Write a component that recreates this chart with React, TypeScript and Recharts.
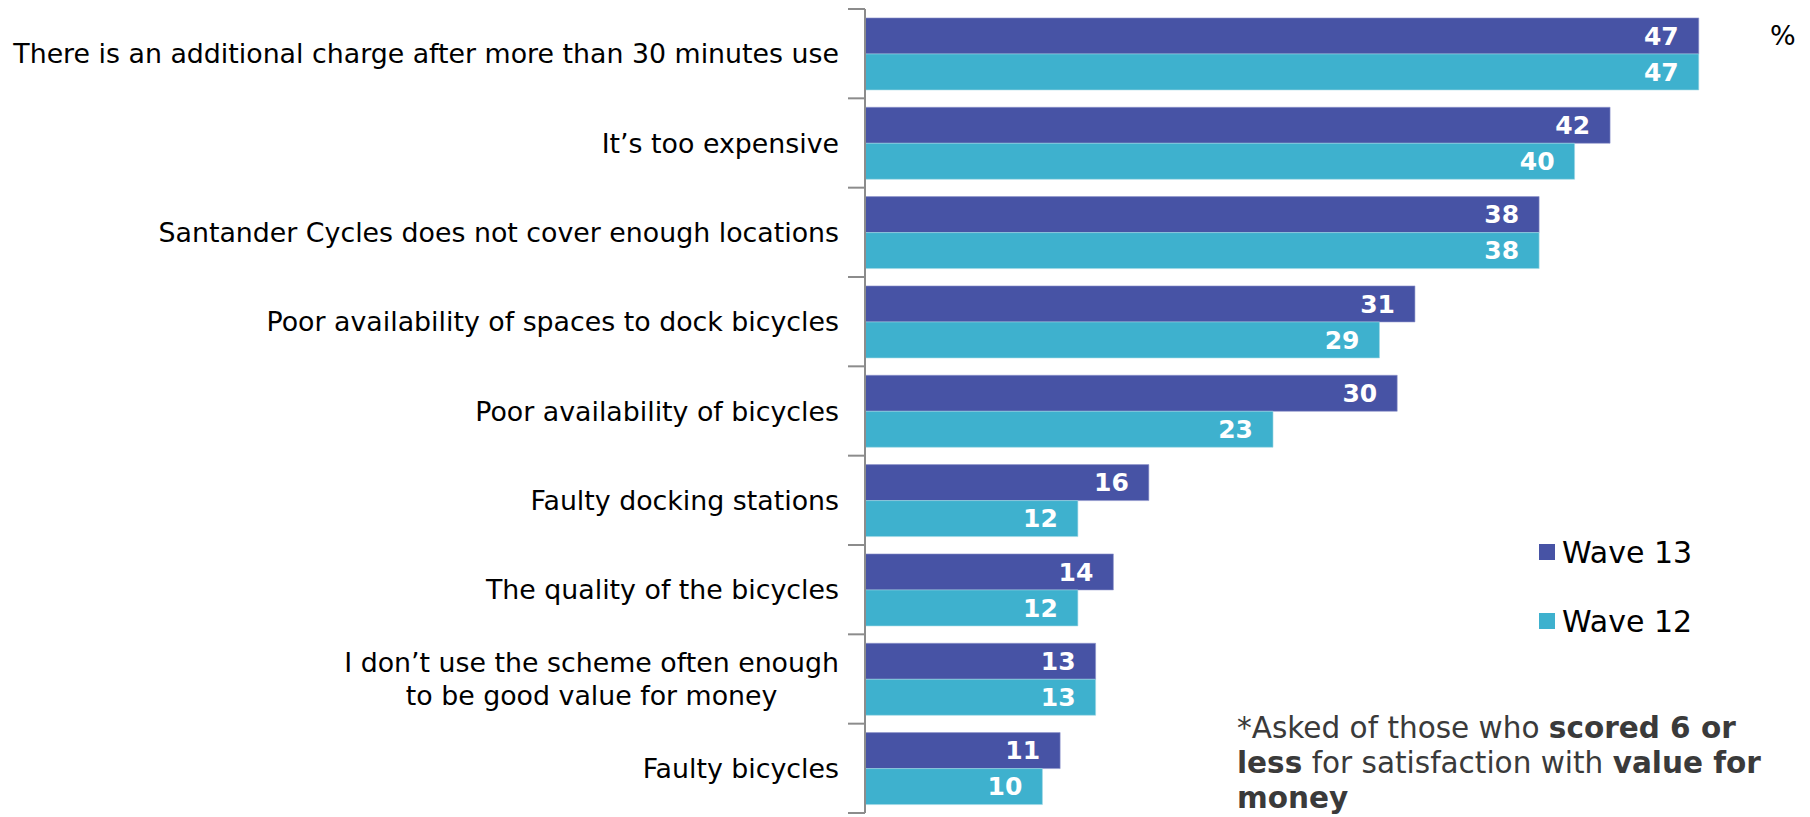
import React from 'react';
import { BarChart, Bar, XAxis, YAxis, LabelList } from 'recharts';

const categories = [
  'There is an additional charge after more than 30 minutes use',
  'It\u2019s too expensive',
  'Santander Cycles does not cover enough locations',
  'Poor availability of spaces to dock bicycles',
  'Poor availability of bicycles',
  'Faulty docking stations',
  'The quality of the bicycles',
  'I don\u2019t use the scheme often enough\nto be good value for money',
  'Faulty bicycles',
];
const wave13 = [47, 42, 38, 31, 30, 16, 14, 13, 11];
const wave12 = [47, 40, 38, 29, 23, 12, 12, 13, 10];
const seriesNames = ['Wave 13', 'Wave 12'];

const data = categories.map((name, i) => ({ name, w13: wave13[i], w12: wave12[i] }));

const DARK = '#4753A5';
const CYAN = '#3EB1CE';
const FONT = "'DejaVu Sans', Verdana, sans-serif";
const LABEL_SIZE = 26.8;

let ctx: CanvasRenderingContext2D | null = null;
function textWidth(t: string) {
  if (!ctx) ctx = document.createElement('canvas').getContext('2d');
  if (!ctx) return t.length * LABEL_SIZE * 0.55;
  ctx.font = `${LABEL_SIZE}px ${FONT}`;
  return ctx.measureText(t).width;
}

// category label plus tick marks on the band boundaries
const CategoryTick = (props: any) => {
  const { x, y, payload, index, visibleTicksCount } = props;
  const half = payload.offset || 44.7;
  const axisX = x + 8;
  const lines: string[] = String(payload.value).split('\n');
  const right = axisX - 26;
  const lh = 33;
  const maxW = Math.max(...lines.map(textWidth));
  const last = index === (visibleTicksCount ?? categories.length) - 1;
  return (
    <g>
      <line x1={axisX - 17} x2={axisX} y1={y - half} y2={y - half} stroke="#8c8c8c" strokeWidth={2} />
      {last && <line x1={axisX - 17} x2={axisX} y1={y + half} y2={y + half} stroke="#8c8c8c" strokeWidth={2} />}
      {lines.map((l, i) => (
        <text
          key={i}
          x={lines.length > 1 ? right - maxW / 2 : right}
          y={y + (i - (lines.length - 1) / 2) * lh}
          dy="0.36em"
          textAnchor={lines.length > 1 ? 'middle' : 'end'}
          fontSize={LABEL_SIZE}
          fontFamily={FONT}
          fill="#000"
        >
          {l}
        </text>
      ))}
    </g>
  );
};

export default function App() {
  const colors = [DARK, CYAN];
  return (
    <div style={{ position: 'absolute', left: 0, top: 0, width: 1810, height: 817, background: '#fff', overflow: 'hidden' }}>
      <BarChart
        width={1810}
        height={817}
        data={data}
        layout="vertical"
        margin={{ top: 9, right: 58, bottom: 4, left: 0 }}
        barCategoryGap="10%"
        barGap={0}
      >
        <XAxis type="number" domain={[0, 50]} hide />
        <YAxis
          type="category"
          dataKey="name"
          width={865}
          axisLine={{ stroke: '#8c8c8c', strokeWidth: 2 }}
          tickLine={false}
          tick={<CategoryTick />}
          interval={0}
        />
        <Bar dataKey="w13" name={seriesNames[0]} fill={DARK} stroke="#8f96cc" strokeWidth={0.6} isAnimationActive={false}>
          <LabelList dataKey="w13" position="insideRight" offset={20} fill="#fff" fontSize={25} fontWeight="bold" fontFamily={FONT} />
        </Bar>
        <Bar dataKey="w12" name={seriesNames[1]} fill={CYAN} stroke="#9fd6e4" strokeWidth={0.6} isAnimationActive={false}>
          <LabelList dataKey="w12" position="insideRight" offset={20} fill="#fff" fontSize={25} fontWeight="bold" fontFamily={FONT} />
        </Bar>
      </BarChart>
      <div style={{ position: 'absolute', left: 1539, top: 534, fontFamily: FONT, fontSize: 30, color: '#000' }}>
        {seriesNames.map((label, i) => (
          <div key={label} style={{ display: 'flex', alignItems: 'center', height: 36, marginBottom: i === 0 ? 33 : 0 }}>
            <span style={{ width: 16, height: 16, background: colors[i], display: 'inline-block', marginRight: 7 }} />
            <span>{label}</span>
          </div>
        ))}
      </div>
      <div style={{ position: 'absolute', left: 1770, top: 20, fontFamily: FONT, fontSize: 27, color: '#000' }}>%</div>
      <div
        style={{
          position: 'absolute',
          left: 1237,
          top: 711,
          width: 573,
          fontFamily: FONT,
          fontSize: 29.5,
          lineHeight: '35px',
          color: '#3a3a3a',
          whiteSpace: 'nowrap',
        }}
      >
        *Asked of those who <b>scored 6 or</b>
        <br />
        <b>less</b> for satisfaction with <b>value for</b>
        <br />
        <b>money</b>
      </div>
    </div>
  );
}
